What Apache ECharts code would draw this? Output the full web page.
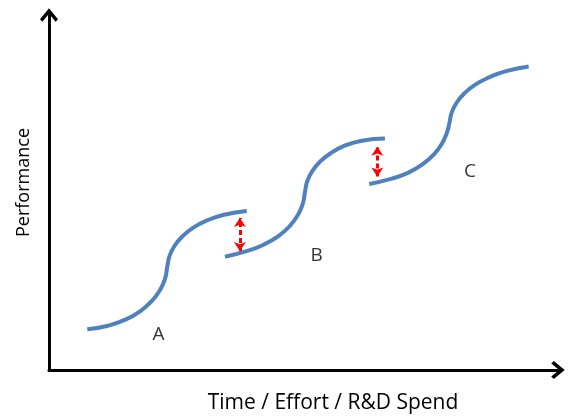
<!DOCTYPE html>
<html>
<head>
<meta charset="utf-8">
<script src="https://cdn.jsdelivr.net/npm/echarts@6/dist/echarts.min.js"></script>
<style>html,body{margin:0;padding:0;background:#fff}#c{width:568px;height:419px}</style>
</head>
<body>
<div id="c"></div>
<script>
// S-curves (x = time/effort, y = performance), normalized 0-100 units
const curveA = [[7.52,11.46],[11.59,12.48],[15.11,14.25],[18.02,16.68],[20.24,19.49],[21.79,22.48],[22.79,25.66],[23.24,29.10],[23.69,32.14],[24.64,34.93],[26.13,37.55],[28.27,40.03],[31.04,42.14],[34.40,43.72],[38.84,44.79]];
const curveB = [[34.57,31.90],[38.64,33.40],[42.16,35.29],[45.07,37.72],[47.29,40.53],[48.84,43.52],[49.84,46.70],[50.29,50.14],[50.74,53.18],[51.69,55.97],[53.18,58.59],[55.32,61.07],[58.09,63.18],[61.45,64.60],[66.00,65.20]];
const curveC = [[62.92,52.40],[66.99,53.76],[70.51,55.53],[73.42,57.96],[75.64,60.77],[77.19,63.76],[78.19,66.94],[78.64,69.38],[79.09,72.42],[80.04,75.21],[81.53,77.83],[83.67,80.31],[86.44,82.42],[89.80,84.20],[94.24,85.50]];
// performance gaps (x, bottom y, top y)
const gaps = [[37.5,33.5,42.8],[64.5,54.5,62.9]];
// curve labels
const labelNames = ['A','B','C'];
const labelPos = [[21.5,9.9],[52.6,32.1],[82.7,55.9]];
const xTitle = 'Time / Effort / R&D Spend';
const yTitle = 'Performance';

const FONT = 'Open Sans';
const chevron = 'path://M0,0 L9,11 L6.6,13.5 L0,5.6 L-6.6,13.5 L-9,11 Z';
const blue = '#4F81BD';

function curveSeries(d){
  return {type:'line', data:d, showSymbol:false, smooth:0.5,
    lineStyle:{color:blue, width:4}, silent:true, z:3};
}

const chart = echarts.init(document.getElementById('c'), null, {renderer:'canvas'});
chart.setOption({
  animation:false,
  grid:{left:49, right:10, top:15, bottom:49, containLabel:false},
  xAxis:{type:'value', min:0, max:100,
    axisLine:{show:true, lineStyle:{color:'#000', width:3}, symbol:['none', chevron], symbolSize:[18,15]},
    axisTick:{show:false}, axisLabel:{show:false}, splitLine:{show:false},
    name:xTitle, nameLocation:'middle', nameGap:23,
    nameTextStyle:{fontFamily:FONT, fontSize:21, color:'#000', padding:[0,0,0,59]}},
  yAxis:{type:'value', min:0, max:100,
    axisLine:{show:true, lineStyle:{color:'#000', width:3}, symbol:['none', chevron], symbolSize:[18,15]},
    axisTick:{show:false}, axisLabel:{show:false}, splitLine:{show:false},
    name:yTitle, nameLocation:'middle', nameGap:16,
    nameTextStyle:{fontFamily:FONT, fontSize:18, color:'#000', padding:[0,0,0,20]}},
  series:[
    curveSeries(curveA), curveSeries(curveB), curveSeries(curveC),
    {type:'line', data:[], silent:true,
      markLine:{silent:true, symbol:['arrow','arrow'], symbolSize:[9,9], label:{show:false},
        lineStyle:{color:'#FF0000', width:3, type:[5,3]},
        data: gaps.map(g => [{coord:[g[0], g[1]]},{coord:[g[0], g[2]]}])}},
    {type:'scatter', symbolSize:0, silent:true,
      data: labelNames.map((n,i)=>({name:n, value:labelPos[i]})),
      label:{show:true, position:'inside', formatter:'{b}', fontFamily:FONT, fontSize:19, color:'#000'}}
  ]
});
</script>
</body>
</html>
